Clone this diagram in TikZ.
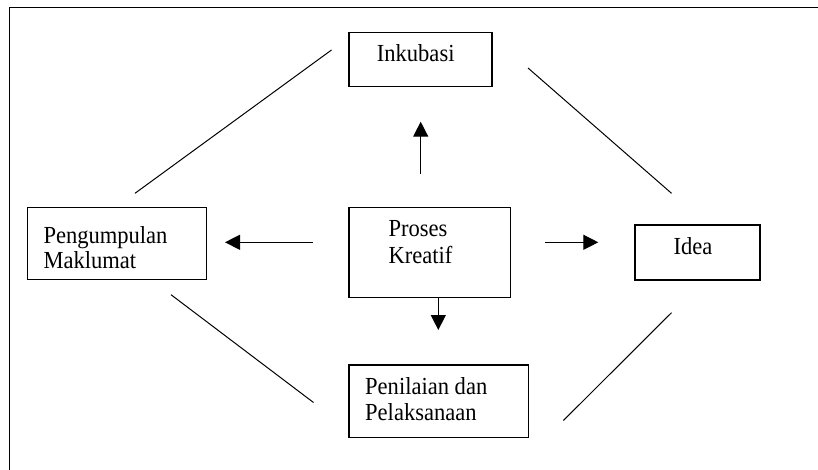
\documentclass[tikz,border=0pt]{standalone}
\usepackage{fontspec}
\setmainfont{Liberation Serif}[FakeStretch=0.92]
\usetikzlibrary{arrows.meta}
\begin{document}
\begin{tikzpicture}[x=1pt,y=-1pt,
  box/.style={draw, line width=1.2pt, inner sep=0pt},
  label text/.style={anchor=base west, inner sep=0pt, font=\fontsize{24.5}{27}\selectfont},
  link/.style={line width=1pt},
  flow/.style={line width=1.3pt, -{Triangle[width=15pt,length=15pt]}}]
\path[use as bounding box] (0,0) rectangle (818,470);

% outer frame (runs off the page on the right and bottom)
\begin{scope}
  \clip (0,0) rectangle (818,470);
  \draw[line width=1.6pt] (9.5,480) -- (9.5,7.5) -- (830,7.5);
\end{scope}

% boxes
\node[box, minimum width=143pt, minimum height=54pt]   (ink)  at (420.5,59.7)  {};
\node[box, minimum width=179.4pt, minimum height=72pt] (peng) at (117,243.3)   {};
\node[box, minimum width=161.3pt, minimum height=90pt] (pro)  at (429.7,252.3) {};
\node[box, minimum width=125pt, minimum height=55pt]   (idea) at (697.5,252.5) {};
\node[box, minimum width=179.3pt, minimum height=72.3pt] (pel) at (438.7,401.2) {};

% texts
\node[label text] (tink)  at (376.7,61.7)  {Inkubasi};
\node[label text] (tpeng1) at (43.3,243.3) {Pengumpulan};
\node[label text] (tpeng2) at (43.3,268.5) {Maklumat};
\node[label text] (tpro1) at (388.3,236.7) {Proses};
\node[label text] (tpro2) at (388.3,263.3) {Kreatif};
\node[label text] (tidea) at (673.3,254.3) {Idea};
\node[label text] (tpel1) at (365,394.3)   {Penilaian dan};
\node[label text] (tpel2) at (365,420.7)   {Pelaksanaan};

% free ends of the connectors
\coordinate (upA) at (420.7,174);   \coordinate (upB) at (420.7,121.7);
\coordinate (lfA) at (313,242.3);   \coordinate (lfB) at (225,242.3);
\coordinate (rtA) at (545,242.3);   \coordinate (rtB) at (598.3,242.3);
\coordinate (dnA) at (438.3,297.3); \coordinate (dnB) at (438.3,330);

\coordinate (tl1) at (135,193.3);  \coordinate (tl2) at (331.5,50);
\coordinate (tr1) at (528,68);     \coordinate (tr2) at (671.5,193.3);
\coordinate (bl1) at (171,294.7);  \coordinate (bl2) at (313.5,402.5);
\coordinate (br1) at (671.5,312.7); \coordinate (br2) at (563.4,420.5);

% arrows out of the centre box
\draw[flow] (upA) -- (upB);
\draw[flow] (lfA) -- (lfB);
\draw[flow] (rtA) -- (rtB);
\draw[flow] (dnA) -- (dnB);

% diagonal links around the cycle
\draw[link] (tl1) -- (tl2);
\draw[link] (tr1) -- (tr2);
\draw[link] (bl1) -- (bl2);
\draw[link] (br1) -- (br2);
\end{tikzpicture}
\end{document}
